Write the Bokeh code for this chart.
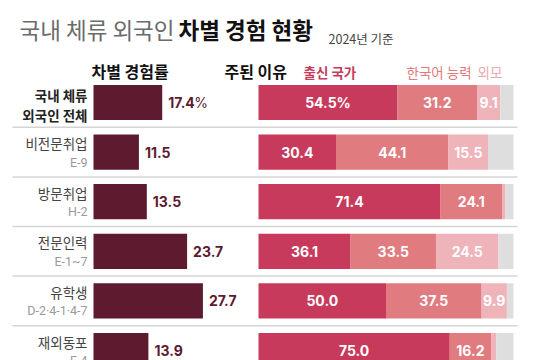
from bokeh.plotting import figure
from bokeh.models import Range1d, Label
from bokeh.core.properties import value
from bokeh.embed import file_html
from bokeh.resources import INLINE

# ---- data ----
names = ["국내 체류\n외국인 전체", "비전문취업", "방문취업", "전문인력", "유학생", "재외동포"]
codes = ["", "E-9", "H-2", "E-1~7", "D-2·4-1·4-7", "F-4"]
rate = [17.4, 11.5, 13.5, 23.7, 27.7, 13.9]
origin = [54.5, 30.4, 71.4, 36.1, 50.0, 75.0]
korean = [31.2, 44.1, 24.1, 33.5, 37.5, 16.2]
looks = [9.1, 15.5, 1.2, 24.5, 9.9, 2.0]
reasons = ["출신 국가", "한국어 능력", "외모"]

FONT = "Noto Sans CJK KR"
C_LEFT = "#5e1a2f"
C_ORIGIN = "#c73a5c"
C_KOREAN = "#e07b80"
C_LOOKS = "#efb3ba"
C_OTHER = "#dedede"

W, H = 537, 360
n = len(rate)
rows = list(range(n))

Y0, PITCH = 102, 49.6
lpx = 3.95
L0 = 93
p = figure(width=W, height=H, output_backend="svg", toolbar_location=None,
           x_range=Range1d(-L0 / lpx, (W - L0) / lpx),
           y_range=Range1d((H - Y0) / PITCH, -Y0 / PITCH),
           min_border=0, outline_line_color=None)
rpx = 2.55
R0 = 258
p.extra_x_ranges = {"r": Range1d(-R0 / rpx, (W - R0) / rpx)}
p.axis.visible = False
p.grid.visible = False
p.background_fill_color = "white"
p.border_fill_color = "white"

# separators
seps = [i + 0.5 for i in rows[:-1]]
p.segment(x0=[(12 - L0) / lpx] * len(seps), x1=[(517 - L0) / lpx] * len(seps), y0=seps, y1=seps,
          line_color="#d4d4d4", line_width=1.5)

bh = 0.71
# left bars
p.hbar(y=rows, left=0, right=rate, height=bh, fill_color=C_LEFT, line_color=None)
rate_txt = [f"{v:.1f}" for v in rate]
p.text(x=[v + 6 / lpx for v in rate], y=rows, text=rate_txt, text_font=value("Inter"),
       text_font_style="bold", text_font_size="14px", text_color=C_LEFT,
       text_baseline="middle", text_align="left")
p.text(x=[rate[0] + 6 / lpx + 26 / lpx], y=[0], text=["%"], text_font=value("Inter"),
       text_font_size="14px", text_color=C_LEFT, text_baseline="middle", text_align="left")

# right stacked bars
s1 = origin
s2 = [a + b for a, b in zip(origin, korean)]
s3 = [a + b for a, b in zip(s2, looks)]
p.hbar(y=rows, left=0, right=s1, height=bh, fill_color=C_ORIGIN, line_color=None, x_range_name="r")
p.hbar(y=rows, left=s1, right=s2, height=bh, fill_color=C_KOREAN, line_color=None, x_range_name="r")
p.hbar(y=rows, left=s2, right=s3, height=bh, fill_color=C_LOOKS, line_color=None, x_range_name="r")
p.hbar(y=rows, left=s3, right=100, height=bh, fill_color=C_OTHER, line_color=None, x_range_name="r")

zero = [0] * n
for k, (starts, vals) in enumerate([(zero, origin), (s1, korean), (s2, looks)]):
    xs, ys, ts = [], [], []
    for i, (s, v) in enumerate(zip(starts, vals)):
        if v >= 5:
            xs.append(s + v / 2)
            ys.append(i)
            ts.append(f"{v:.1f}" + ("%" if (i == 0 and k == 0) else ""))
    p.text(x=xs, y=ys, text=ts, x_range_name="r", text_font=value("Inter"),
           text_font_style="bold", text_font_size="14px", text_color="white",
           text_baseline="middle", text_align="center")

# row labels
lab_x = -6 / lpx
p.text(x=[lab_x], y=[0 - 8 / PITCH], text=["국내 체류"], text_font=value(FONT),
       text_font_style="bold", text_font_size="13.5px", text_color="#222222",
       text_baseline="middle", text_align="right")
p.text(x=[lab_x], y=[0 + 12 / PITCH], text=["외국인 전체"], text_font=value(FONT),
       text_font_style="bold", text_font_size="13.5px", text_color="#222222",
       text_baseline="middle", text_align="right")
p.text(x=[lab_x] * (n - 1), y=[i - 9 / PITCH for i in rows[1:]], text=names[1:],
       text_font=value(FONT), text_font_size="13.5px", text_color="#444444",
       text_baseline="middle", text_align="right")
p.text(x=[lab_x] * (n - 1), y=[i + 10 / PITCH for i in rows[1:]], text=codes[1:],
       text_font=value("Roboto"), text_font_size="12.5px", text_color="#9a9a9a",
       text_baseline="middle", text_align="right")

# titles (screen units: y from bottom)
def lab(x, y, t, size, color, style="normal", font=FONT):
    p.add_layout(Label(x=x, y=H - y, x_units="screen", y_units="screen", text=t,
                       text_font=font, text_font_size=size, text_color=color,
                       text_font_style=style, text_baseline="middle"))

lab(19, 28, "국내 체류 외국인", "22.5px", "#6a6a6a")
lab(178, 28, "차별 경험 현황", "22.5px", "#111111", "bold")
lab(328, 38, "2024년 기준", "12.5px", "#444444")
lab(91, 70, "차별 경험률", "16px", "#111111", "bold")
lab(224, 70, "주된 이유", "16px", "#111111", "bold")
lab(303, 71, reasons[0], "13.5px", C_ORIGIN, "bold")
lab(406, 71, reasons[1], "13.5px", "#e0787c")
lab(477, 71, reasons[2], "13.5px", "#eba9b0")

open("out.html", "w").write(file_html(p, INLINE))
